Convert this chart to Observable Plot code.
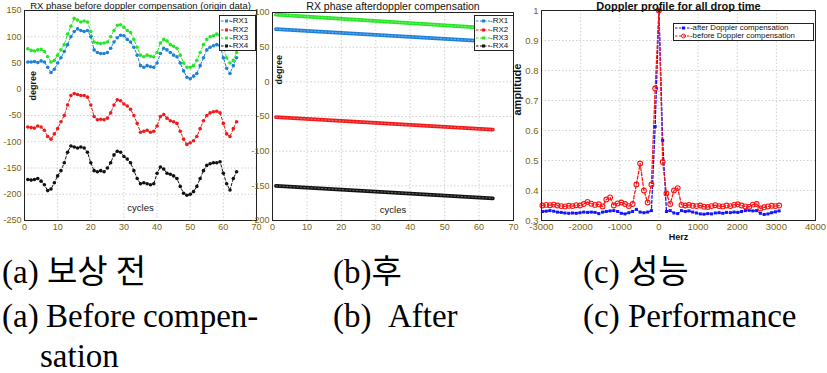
<!DOCTYPE html>
<html><head><meta charset="utf-8">
<script src="https://cdn.jsdelivr.net/npm/d3@7"></script>
<script src="https://cdn.jsdelivr.net/npm/@observablehq/plot@0.6"></script>
<style>
html,body{margin:0;padding:0;background:#fff;}
#wrap{position:relative;width:827px;height:373px;overflow:hidden;background:#fff;}
.panel{position:absolute;top:0;}
.panel svg{overflow:visible;}
.legend{position:absolute;background:#fff;border:1px solid #222;font-family:"Liberation Sans",Arial,sans-serif;font-size:8px;color:#111;box-sizing:border-box;}
.legend .row{position:absolute;left:0;white-space:nowrap;height:8px;line-height:8px;}
.legend .row svg{position:absolute;top:0;}
.legend .row span{position:absolute;top:0;}
.cap{position:absolute;font-family:"Liberation Serif","Noto Sans CJK KR",serif;font-size:33px;color:#000;white-space:nowrap;line-height:1;}
</style></head><body><div id="wrap"></div>
<script>
// ---------- data ----------
const cycles = [1,2,3,4,5,6,7,8,9,10,11,12,13,14,15,16,17,18,19,20,21,22,23,24,25,26,27,28,29,30,31,32,33,34,35,36,37,38,39,40,41,42,43,44,45,46,47,48,49,50,51,52,53,54,55,56,57,58,59,60,61,62,63,64];
const rx1Before = [52,52,53,51,54,52,42,32,38,50,60,72,85,100,110,115,112,110,112,100,75,70,68,68,70,78,90,98,103,102,95,90,80,65,45,42,45,43,42,50,68,78,75,70,65,62,50,35,23,20,25,30,45,60,75,80,83,85,83,60,40,30,45,60];
const rx2Before = [-72,-73,-74,-70,-72,-78,-90,-95,-85,-75,-62,-50,-30,-12,-8,-10,-12,-12,-15,-30,-52,-58,-57,-58,-55,-45,-30,-20,-22,-28,-32,-38,-50,-65,-82,-80,-78,-82,-80,-70,-52,-48,-55,-60,-62,-65,-80,-95,-105,-102,-98,-90,-75,-60,-50,-45,-43,-42,-45,-65,-85,-90,-75,-62];
const rx3Before = [77,74,73,75,76,72,62,52,55,65,75,85,105,120,135,132,128,130,128,110,90,88,87,88,90,100,112,122,123,118,112,108,95,80,65,62,65,63,62,70,88,95,92,85,82,78,65,50,42,42,45,55,70,85,95,100,102,105,103,80,60,50,55,70];
const rx4Before = [-172,-173,-172,-170,-175,-182,-193,-190,-178,-165,-155,-140,-120,-108,-110,-112,-110,-112,-120,-140,-155,-157,-155,-157,-150,-140,-125,-118,-120,-128,-133,-140,-155,-170,-180,-178,-180,-182,-180,-160,-148,-152,-160,-162,-165,-170,-185,-198,-202,-200,-195,-185,-170,-155,-145,-142,-140,-140,-138,-160,-180,-192,-170,-157];

const afterCycles = [1, 64];
const rx1After = [76, 58];
const rx2After = [-51, -69];
const rx3After = [97, 77];
const rx4After = [-150, -168];

const freqHz = [-2976,-2880,-2784,-2688,-2592,-2496,-2400,-2304,-2208,-2112,-2016,-1920,-1824,-1728,-1632,-1536,-1440,-1344,-1248,-1152,-1056,-960,-864,-768,-672,-576,-480,-384,-288,-192,-96,0,96,192,288,384,480,576,672,768,864,960,1056,1152,1248,1344,1440,1536,1632,1728,1824,1920,2016,2112,2208,2304,2400,2496,2592,2688,2784,2880,2976,3072];
const ampAfter = [0.330,0.331,0.333,0.331,0.328,0.327,0.325,0.324,0.325,0.324,0.326,0.328,0.327,0.328,0.327,0.323,0.328,0.330,0.332,0.333,0.330,0.324,0.322,0.326,
  0.330,0.337,0.328,0.326,0.328,0.333,0.613,1.0,0.567,0.330,0.333,0.325,0.323,0.333,
  0.330,0.332,0.328,0.325,0.322,0.321,0.323,0.322,0.325,0.326,0.324,0.327,0.326,0.328,0.327,0.330,0.333,0.334,0.332,0.333,0.324,0.320,0.322,0.326,0.329,0.332];
const ampBefore = [0.350,0.352,0.351,0.353,0.350,0.348,0.347,0.349,0.348,0.351,0.350,0.355,0.362,0.356,0.352,0.354,0.347,0.370,0.377,0.350,0.357,0.360,0.355,0.348,
  0.355,0.420,0.490,0.400,0.360,0.420,0.740,1.0,0.495,0.390,0.355,0.400,0.408,0.352,
  0.350,0.352,0.349,0.348,0.350,0.346,0.345,0.348,0.351,0.348,0.347,0.350,0.348,0.352,0.354,0.350,0.347,0.345,0.353,0.355,0.340,0.344,0.347,0.349,0.348,0.350];

const rxNames = ["RX1","RX2","RX3","RX4"];
const rxColors = ["#1f80d8","#f01a1a","#26e626","#111111"];
const profileNames = ["after Doppler compensation","before Doppler compensation"];
const profileColors = ["#1414ff","#ff1414"];

const phaseTicksX = [0,10,20,30,40,50,60,70];
const beforeTicksY = [-250,-200,-150,-100,-50,0,50,100,150];
const afterTicksY = [-200,-150,-100,-50,0,50,100];
const hzTicks = [-3000,-2000,-1000,0,1000,2000,3000,4000];
const ampTicks = [0.3,0.4,0.5,0.6,0.7,0.8,0.9,1];

const titleA = "RX phase before doppler compensation (origin data)";
const titleB = "RX phase afterdoppler compensation";
const titleC = "Doppler profile for all drop time";

// ---------- tidy tables ----------
const beforeRows = [];
[rx1Before, rx2Before, rx3Before, rx4Before].forEach((arr, i) =>
  arr.forEach((v, j) => beforeRows.push({cycle: cycles[j], phase: v, rx: rxNames[i]})));
const afterRows = [];
[rx1After, rx2After, rx3After, rx4After].forEach((arr, i) =>
  arr.forEach((v, j) => afterRows.push({cycle: afterCycles[j], phase: v, rx: rxNames[i]})));
const profileRows = [];
[ampAfter, ampBefore].forEach((arr, i) =>
  arr.forEach((v, j) => profileRows.push({hz: freqHz[j], amp: v, s: profileNames[i]})));

// ---------- styles ----------
const font = "'Liberation Sans', Arial, sans-serif";
const tickColor = "#7a6410";
const gridStyle = {stroke: "#c4c4c4", strokeDasharray: "1.5,2", strokeWidth: 0.8};
const fmt = d => String(d);
const axisOpts = {tickFormat: fmt, tickSize: 0, tickPadding: 3, label: null};
const baseStyle = {background: "transparent", fontFamily: font, fontSize: "9px", color: tickColor, overflow: "visible"};

const wrap = document.getElementById("wrap");
function place(svg, left) {
  const d = document.createElement("div");
  d.className = "panel";
  d.style.left = left + "px";
  d.appendChild(svg);
  wrap.appendChild(d);
}

// ---------- panel (a) ----------
const pa = Plot.plot({
  width: 270, height: 240, marginLeft: 24, marginRight: 14, marginTop: 10, marginBottom: 20,
  style: baseStyle,
  x: {domain: [0, 70], ticks: phaseTicksX, ...axisOpts},
  y: {domain: [-250, 150], ticks: beforeTicksY, ...axisOpts},
  color: {domain: rxNames, range: rxColors},
  marks: [
    Plot.ruleX(phaseTicksX.slice(1, -1), gridStyle),
    Plot.ruleY(beforeTicksY.slice(1, -1), gridStyle),
    Plot.line(beforeRows, {x: "cycle", y: "phase", z: "rx", stroke: "rx", strokeWidth: 1, strokeDasharray: "2.5,2"}),
    Plot.dot(beforeRows, {x: "cycle", y: "phase", fill: "rx", r: 1.8}),
    Plot.frame({stroke: "#222", strokeWidth: 1}),
    Plot.text([titleA], {text: d => d, frameAnchor: "top", lineAnchor: "bottom", dy: -2, fill: "#111", fontSize: 9.5}),
    Plot.text(["degree"], {text: d => d, frameAnchor: "left", dx: 9, dy: -15, rotate: -90, fill: "#111", fontWeight: "bold", fontSize: 9}),
    Plot.text(["cycles"], {text: d => d, frameAnchor: "bottom", dy: -10, fill: "#111", fontSize: 9.5})
  ]
});
place(pa, 0);

// ---------- panel (b) ----------
const pb = Plot.plot({
  width: 285, height: 240, marginLeft: 32, marginRight: 12, marginTop: 12, marginBottom: 20,
  style: baseStyle,
  x: {domain: [0, 70], ticks: phaseTicksX, ...axisOpts},
  y: {domain: [-200, 100], ticks: afterTicksY, ...axisOpts},
  color: {domain: rxNames, range: rxColors},
  marks: [
    Plot.ruleX(phaseTicksX.slice(1, -1), gridStyle),
    Plot.ruleY(afterTicksY.slice(1, -1), gridStyle),
    Plot.line(afterRows, {x: "cycle", y: "phase", z: "rx", stroke: "rx", strokeWidth: 3.8}),
    Plot.line(afterRows, {x: "cycle", y: "phase", z: "rx", stroke: "#ffffff", strokeOpacity: 0.35, strokeWidth: 1, strokeDasharray: "1.5,2"}),
    Plot.frame({stroke: "#222", strokeWidth: 1}),
    Plot.text([titleB], {text: d => d, frameAnchor: "top", lineAnchor: "bottom", dy: -3, fill: "#111", fontSize: 10.5, letterSpacing: "0.3px"}),
    Plot.text(["degree"], {text: d => d, frameAnchor: "left", dx: 7, dy: -32, rotate: -90, fill: "#111", fontWeight: "bold", fontSize: 9}),
    Plot.text(["cycles"], {text: d => d, frameAnchor: "bottom", dy: -8, fill: "#111", fontSize: 9.5})
  ]
});
place(pb, 240);

// ---------- panel (c) ----------
const pc = Plot.plot({
  width: 322, height: 250, marginLeft: 36, marginRight: 12, marginTop: 10, marginBottom: 30,
  style: {...baseStyle, fontSize: "9.5px"},
  x: {domain: [-3000, 4000], ticks: hzTicks, ...axisOpts},
  y: {domain: [0.3, 1], ticks: ampTicks, ...axisOpts},
  color: {domain: profileNames, range: profileColors},
  marks: [
    Plot.ruleX(hzTicks.slice(1, -1), gridStyle),
    Plot.ruleY(ampTicks.slice(1, -1), gridStyle),
    Plot.line(profileRows, {x: "hz", y: "amp", z: "s", stroke: "s", strokeWidth: 1.3, strokeDasharray: "3,2"}),
    Plot.dot(profileRows.filter(d => d.s === profileNames[0]), {x: "hz", y: "amp", fill: "s", symbol: "square", r: 1.7}),
    Plot.dot(profileRows.filter(d => d.s === profileNames[1]), {x: "hz", y: "amp", stroke: "s", fill: "none", r: 2.4, strokeWidth: 1.1}),
    Plot.frame({stroke: "#222", strokeWidth: 1}),
    Plot.text([titleC], {text: d => d, frameAnchor: "top", lineAnchor: "bottom", dy: -1, fill: "#111", fontSize: 11, fontWeight: "bold", letterSpacing: "0.3px"}),
    Plot.text(["amplitude"], {text: d => d, frameAnchor: "left", dx: -24, rotate: -90, fill: "#111", fontWeight: "bold", fontSize: 11}),
    Plot.text(["Herz"], {text: d => d, frameAnchor: "bottom", dy: 19, fill: "#111", fontWeight: "bold", fontSize: 9})
  ]
});
place(pc, 505);

// ---------- legends ----------
function legend(box, names, colors, markers, rowTops, sampleW, textLeft, fontSize) {
  const d = document.createElement("div");
  d.className = "legend";
  Object.assign(d.style, {left: box[0] + "px", top: box[1] + "px", width: box[2] + "px", height: box[3] + "px", fontSize: fontSize + "px"});
  names.forEach((n, i) => {
    const r = document.createElement("div");
    r.className = "row";
    r.style.top = rowTops[i] + "px";
    const mid = 2 + sampleW / 2;
    const mk = markers[i] === "circle"
      ? `<circle cx="${mid}" cy="4" r="2" fill="none" stroke="${colors[i]}" stroke-width="1"/>`
      : `<rect x="${mid - 1.5}" y="2.5" width="3" height="3" fill="${colors[i]}"/>`;
    r.innerHTML = `<svg width="${sampleW + 4}" height="8"><line x1="1" x2="${sampleW + 2}" y1="4" y2="4" stroke="${colors[i]}" stroke-width="1" stroke-dasharray="2.5,1.5"/>${mk}</svg><span style="left:${textLeft}px">${n}</span>`;
    d.appendChild(r);
  });
  wrap.appendChild(d);
}
legend([219, 15, 37, 36], rxNames.map(n => "-" + n), rxColors, ["sq","sq","sq","sq"], [1, 9.5, 17.5, 25.5], 9, 10, 8);
legend([474, 15, 40, 36], rxNames.map(n => "-" + n), rxColors, ["sq","sq","sq","sq"], [1, 9.5, 17.5, 25.5], 13, 15, 8);
legend([673, 23, 141, 18], profileNames.map(n => "-" + n), profileColors, ["sq","circle"], [0, 8], 15, 16, 7.8);

// ---------- captions ----------
const captions = [
  ["(a) 보상 전", 2, 256, 0], ["(b)후", 333, 256, 0], ["(c) 성능", 583, 256, 0],
  ["(a) Before compen-", 2, 300, -1], ["(b) After", 333, 300, 10], ["(c) Performance", 583, 300, 0],
  ["sation", 40, 340, 0]
];
captions.forEach(([t, x, y, ws]) => {
  const c = document.createElement("div");
  c.className = "cap";
  c.textContent = t;
  c.style.left = x + "px";
  c.style.top = y + "px";
  c.style.wordSpacing = ws + "px";
  wrap.appendChild(c);
});
</script>
</body></html>
